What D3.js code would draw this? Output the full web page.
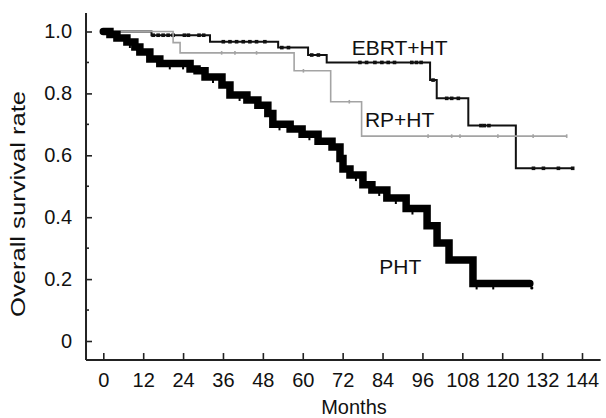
<!DOCTYPE html>
<html>
<head>
<meta charset="utf-8">
<script src="https://cdn.jsdelivr.net/npm/d3@7"></script>
<style>
  html, body { margin: 0; padding: 0; background: #fff; }
  svg { display: block; }
  text { font-family: "Liberation Sans", Arial, Helvetica, sans-serif; fill: #111; }
</style>
</head>
<body>
<svg id="chart" width="606" height="418"></svg>
<script>
// ---------------- data ----------------
const xTickValues = [0, 12, 24, 36, 48, 60, 72, 84, 96, 108, 120, 132, 144];
const yTickValues = [0, 0.2, 0.4, 0.6, 0.8, 1.0];
const yTickLabels = ["0", "0.2", "0.4", "0.6", "0.8", "1.0"];
const yMinorTicks = [0.1, 0.3, 0.5, 0.7, 0.9];

const seriesNames = ["EBRT+HT", "RP+HT", "PHT"];

// EBRT+HT (thin black)
const ebrtTimes = [0, 14.5, 32.1, 52.6, 61.6, 67.2, 98.3, 100.3, 109.8, 124.1];
const ebrtSurv  = [1.0, 0.988, 0.967, 0.948, 0.924, 0.900, 0.843, 0.784, 0.696, 0.558];
const ebrtEnd = 141.2;
const ebrtCensored = [15, 16.5, 18, 19.5, 21, 24.4, 25.6, 28.8, 30.2, 36.1, 38.1, 40.1, 42.1, 44.1, 46.1, 48.6,
  53.7, 55.7, 62.7, 64.7, 77.2, 79.2, 81.7, 83.8, 85.7, 87.6, 92.8, 94.2, 95.6, 99.2,
  103.3, 104.8, 106.8, 113.6, 114.6, 116.0, 129.4, 132.4, 136.9, 141.2];

// RP+HT (grey)
const rpTimes = [0, 21.0, 23.1, 57.4, 68.4, 77.7];
const rpSurv  = [1.0, 0.964, 0.931, 0.873, 0.773, 0.662];
const rpEnd = 139.4;
const rpCensored = [35.6, 39.6, 46.1, 60.2, 74.0, 97.7, 104.8, 107.3, 118.7, 129.3, 139.4];

// PHT (thick black)
const phtTimes = [0, 2.0, 4.1, 7.1, 9.5, 11, 14, 17, 26.1, 28.2, 30.6, 35.7, 38.1, 43.2, 46.5, 49.5,
  51, 56.2, 59.8, 64.6, 68.8, 71.2, 72.1, 74.2, 78.1, 80.8, 85.3, 91.1, 97.4, 100.4, 104, 111.2];
const phtSurv  = [1.0, 0.99, 0.979, 0.966, 0.95, 0.934, 0.911, 0.897, 0.879, 0.873, 0.853, 0.827, 0.795, 0.779, 0.762, 0.735,
  0.70, 0.685, 0.668, 0.645, 0.627, 0.59, 0.556, 0.536, 0.505, 0.488, 0.462, 0.428, 0.372, 0.317, 0.262, 0.186];
const phtEnd = 128.3;
const phtCensored = [8, 20, 24, 33, 41, 53, 62, 76, 83, 88, 93, 112.3, 117.3];
const phtLastDot = 128.9;

// ---------------- drawing ----------------
const svg = d3.select("#chart");
const x = d3.scaleLinear().domain([0, 144]).range([103.3, 582]);
const y = d3.scaleLinear().domain([0, 1]).range([341, 31.5]);

function stepData(times, surv, end) {
  const pts = times.map((t, i) => [t, surv[i]]);
  pts.push([end, surv[surv.length - 1]]);
  return pts;
}
function survAt(times, surv, t) {
  let v = surv[0];
  for (let i = 0; i < times.length; i++) if (times[i] <= t) v = surv[i];
  return v;
}
const line = d3.line().x(d => x(d[0])).y(d => y(d[1])).curve(d3.curveStepAfter);

// axes lines
const axisColor = "#222";
svg.append("line").attr("x1", x(-5.2)).attr("x2", x(149.6)).attr("y1", y(-0.0615)).attr("y2", y(-0.0615))
  .attr("stroke", axisColor).attr("stroke-width", 2);
svg.append("line").attr("x1", x(-5.2)).attr("x2", x(-5.2)).attr("y1", y(-0.0615)).attr("y2", y(1.06))
  .attr("stroke", axisColor).attr("stroke-width", 2);

// x axis
const xAxis = d3.axisBottom(x).tickValues(xTickValues).tickSizeInner(-7).tickSizeOuter(0).tickPadding(13)
  .tickFormat(d3.format("d"));
const gx = svg.append("g").attr("transform", `translate(0,${y(-0.0615)})`).call(xAxis);
gx.select(".domain").remove();
gx.selectAll(".tick line").attr("stroke", axisColor).attr("stroke-width", 1.6);
gx.selectAll(".tick text").attr("font-size", 20).attr("fill", "#111")
  .attr("font-family", '"Liberation Sans", Arial, sans-serif');

// y axis
const yAxis = d3.axisLeft(y).tickValues(yTickValues).tickSizeInner(-6).tickSizeOuter(0).tickPadding(14)
  .tickFormat((d, i) => yTickLabels[i]);
const gy = svg.append("g").attr("transform", `translate(${x(-5.2)},0)`).call(yAxis);
gy.select(".domain").remove();
gy.selectAll(".tick line").attr("stroke", axisColor).attr("stroke-width", 1.6);
gy.selectAll(".tick text").attr("font-size", 20).attr("fill", "#111")
  .attr("font-family", '"Liberation Sans", Arial, sans-serif');
svg.append("g").selectAll("line").data(yMinorTicks).join("line")
  .attr("x1", x(-5.2)).attr("x2", x(-5.2) + 3)
  .attr("y1", d => y(d)).attr("y2", d => y(d))
  .attr("stroke", axisColor).attr("stroke-width", 1.6);

// axis titles
svg.append("text").attr("x", 354).attr("y", 413.5).attr("text-anchor", "middle")
  .attr("font-size", 20).text("Months");
svg.append("text").attr("transform", "translate(25,204) rotate(-90)").attr("text-anchor", "middle")
  .attr("font-size", 21).attr("textLength", 226).attr("lengthAdjust", "spacingAndGlyphs")
  .text("Overall survival rate");

// EBRT+HT
svg.append("path").datum(stepData(ebrtTimes, ebrtSurv, ebrtEnd)).attr("d", line)
  .attr("fill", "none").attr("stroke", "#111").attr("stroke-width", 2);
svg.append("g").selectAll("rect").data(ebrtCensored).join("rect")
  .attr("x", d => x(d) - 1.8).attr("y", d => y(survAt(ebrtTimes, ebrtSurv, d)) - 1.8)
  .attr("width", 3.6).attr("height", 3.6).attr("fill", "#111");

// RP+HT
svg.append("path").datum(stepData(rpTimes, rpSurv, rpEnd)).attr("d", line)
  .attr("fill", "none").attr("stroke", "#a4a4a4").attr("stroke-width", 1.6);
svg.append("g").selectAll("line").data(rpCensored).join("line")
  .attr("x1", d => x(d)).attr("x2", d => x(d))
  .attr("y1", d => y(survAt(rpTimes, rpSurv, d)) - 1.8).attr("y2", d => y(survAt(rpTimes, rpSurv, d)) + 1.8)
  .attr("stroke", "#a4a4a4").attr("stroke-width", 1.6);

// PHT
svg.append("path").datum(stepData(phtTimes, phtSurv, phtEnd)).attr("d", line)
  .attr("fill", "none").attr("stroke", "#000").attr("stroke-width", 7.5)
  .attr("stroke-linecap", "round").attr("stroke-linejoin", "miter");
svg.append("g").selectAll("line").data(phtCensored).join("line")
  .attr("x1", d => x(d)).attr("x2", d => x(d))
  .attr("y1", d => y(survAt(phtTimes, phtSurv, d))).attr("y2", d => y(survAt(phtTimes, phtSurv, d)) + 6)
  .attr("stroke", "#000").attr("stroke-width", 2);
svg.append("circle").attr("cx", x(phtLastDot)).attr("cy", y(phtSurv[phtSurv.length - 1]) + 4.5)
  .attr("r", 1.6).attr("fill", "#000");

// series labels
svg.append("text").attr("x", x(74.7)).attr("y", y(0.924)).attr("font-size", 21).text(seriesNames[0]);
svg.append("text").attr("x", x(78.7)).attr("y", y(0.693)).attr("font-size", 21).text(seriesNames[1]);
svg.append("text").attr("x", x(83.0)).attr("y", y(0.217)).attr("font-size", 21).text(seriesNames[2]);
</script>
</body>
</html>
